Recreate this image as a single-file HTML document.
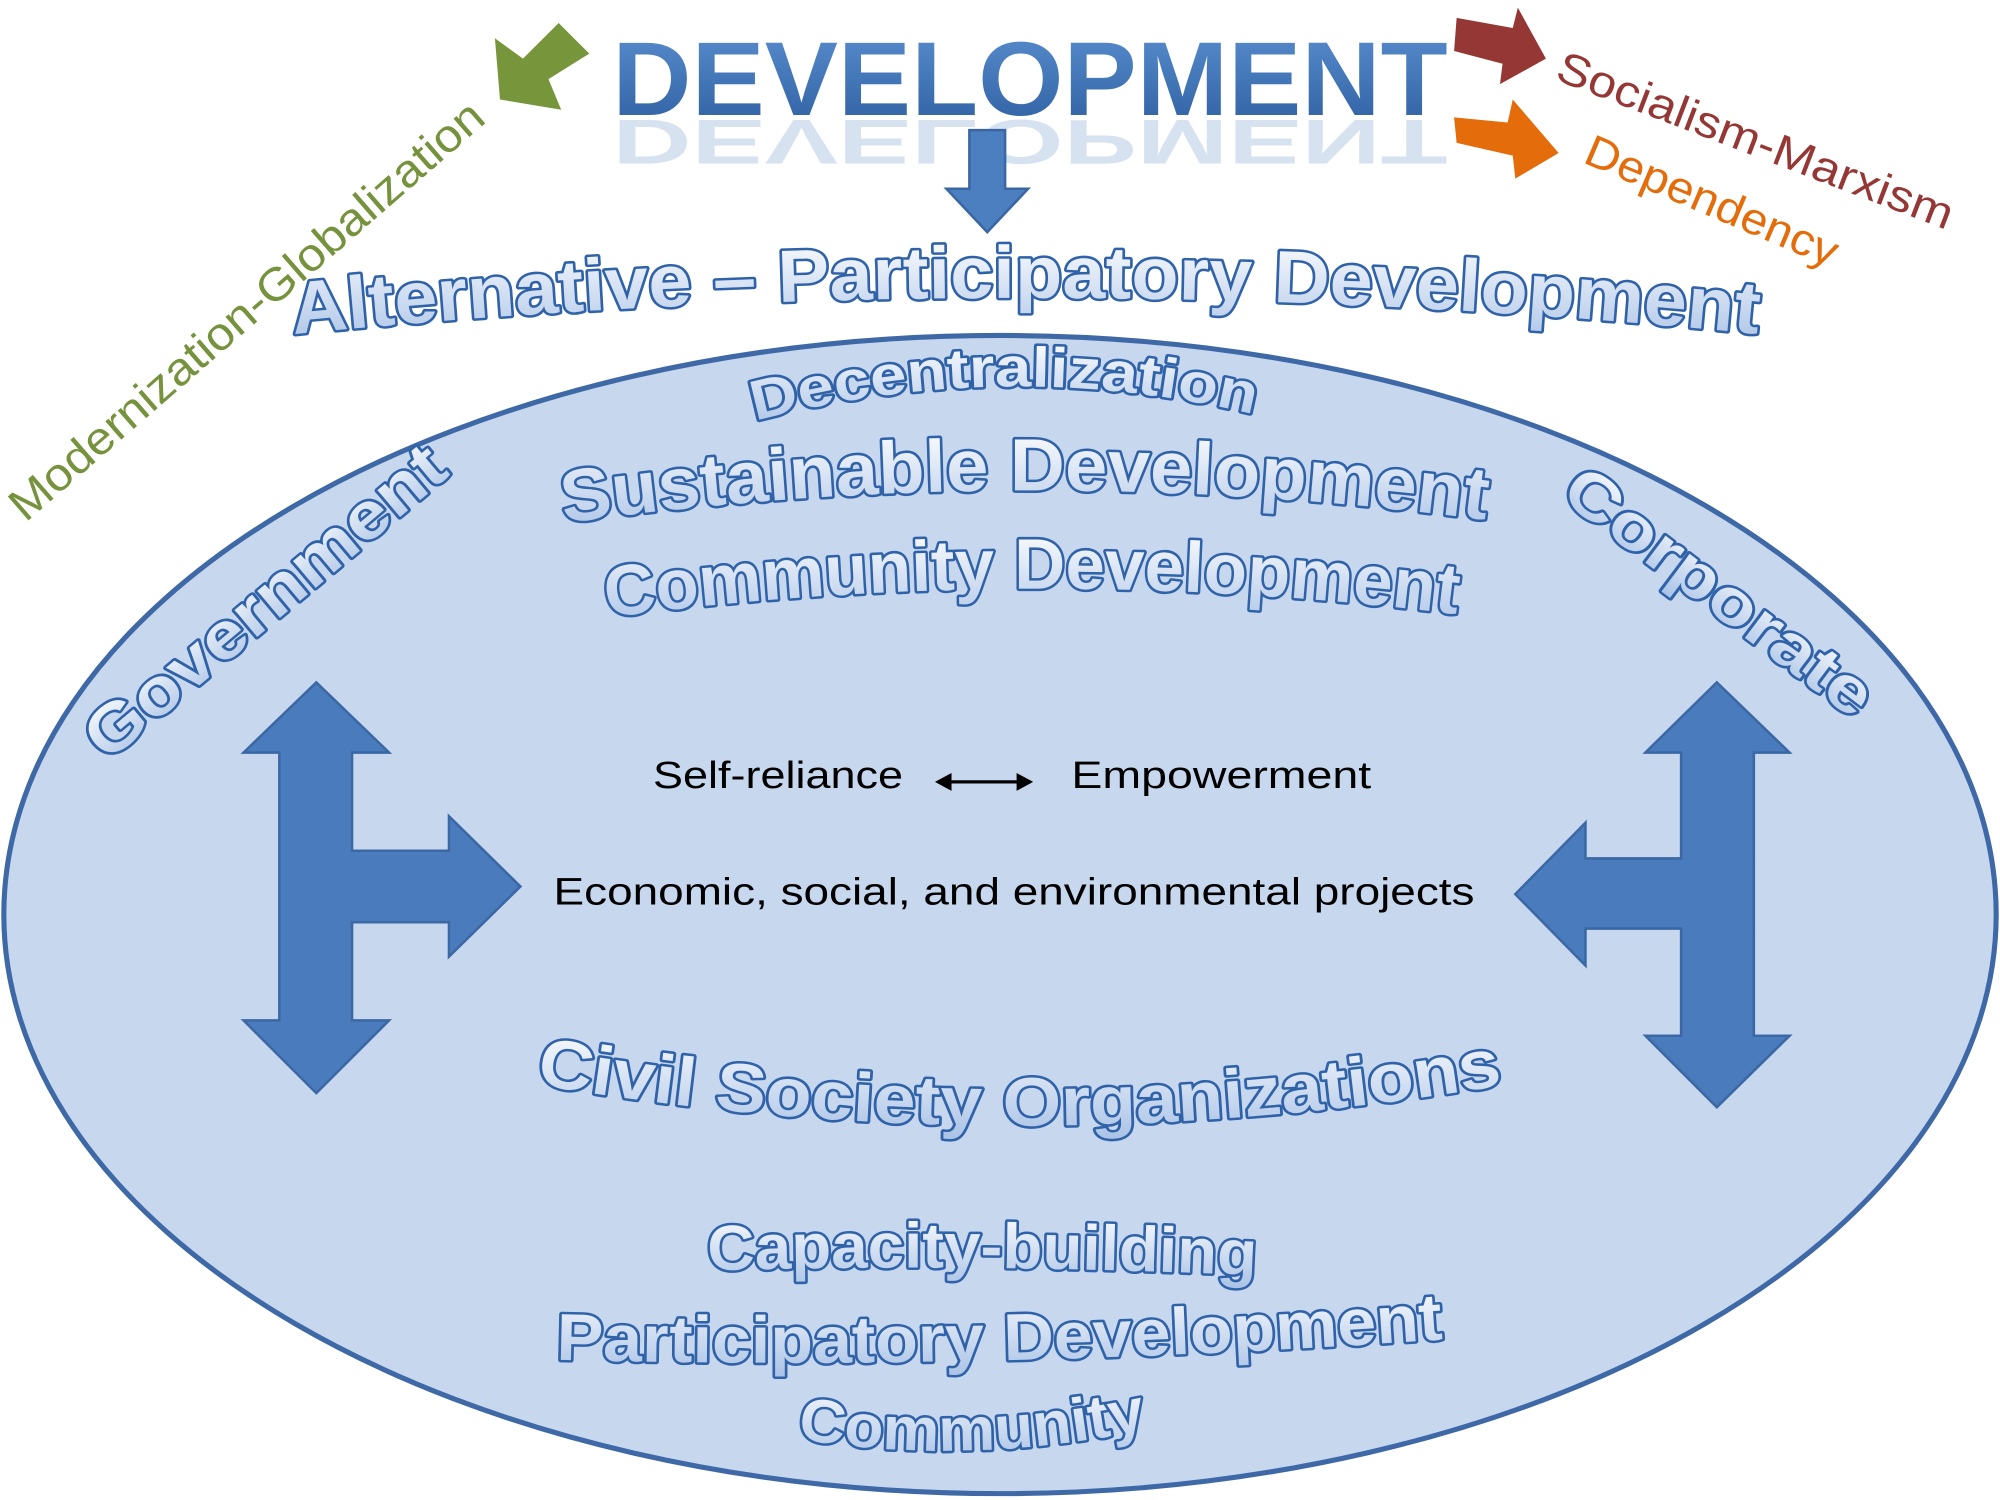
<!DOCTYPE html>
<html><head><meta charset="utf-8"><style>
html,body{margin:0;padding:0;background:#fff;width:2000px;height:1500px;overflow:hidden}
svg{display:block}
.o{font-family:"Liberation Sans",sans-serif;font-weight:bold;fill:url(#og);stroke:#2f62a8;stroke-width:4;paint-order:stroke;stroke-linejoin:round}
.n{font-family:"Liberation Sans",sans-serif;fill:#000;font-size:30px}
</style></head><body>
<svg width="2000" height="1500" viewBox="0 0 1568 1176" preserveAspectRatio="none" xmlns="http://www.w3.org/2000/svg">
<defs>
<linearGradient id="dg" x1="0" y1="0" x2="0" y2="1">
<stop offset="0" stop-color="#5a8fd0"/><stop offset="1" stop-color="#2d5e9f"/></linearGradient>
<linearGradient id="og" x1="0" y1="0" x2="0" y2="1">
<stop offset="0" stop-color="#ffffff"/><stop offset="1" stop-color="#a9c2e6"/></linearGradient>
<linearGradient id="rg" x1="0" y1="0" x2="0" y2="1">
<stop offset="0" stop-color="#8fb0dc" stop-opacity="0.7"/><stop offset="1" stop-color="#fff" stop-opacity="0"/></linearGradient>
<path id="p1" d="M230,262 Q805,205 1380,262"/>
<path id="p2" d="M592,330 Q790,278 988,326"/>
<path id="p3" d="M442,410 Q805,360 1168,408"/>
<path id="p4" d="M476,484 Q810,440 1146,482"/>
<path id="p5" d="M420,850 Q800,915 1182,850"/>
<path id="p6" d="M436,1066 Q780,1075 1132,1050"/>
<path id="p7" d="M625,1128 Q760,1150 902,1120"/>
<path id="p8" d="M555,996 Q770,990 985,1000"/>
</defs>
<ellipse cx="784" cy="717" rx="781" ry="454" fill="#c7d7ee" stroke="#3e69a6" stroke-width="4"/>

<text x="480" y="90" font-family="Liberation Sans,sans-serif" font-weight="bold" font-size="82" fill="url(#dg)" textLength="655" lengthAdjust="spacingAndGlyphs">DEVELOPMENT</text>
<text transform="translate(0,94) scale(1,-0.6)" x="480" y="0" font-family="Liberation Sans,sans-serif" font-weight="bold" font-size="82" fill="#a8c0e2" opacity="0.45" textLength="655" lengthAdjust="spacingAndGlyphs">DEVELOPMENT</text>
<rect x="470" y="96" width="680" height="60" fill="url(#rg)" opacity="0"/>

<polygon points="760,102 788,102 788,148 806,148 774,182 742,148 760,148" fill="#4c7fc0" stroke="#3a66a3" stroke-width="2"/>
<polygon points="438,18 462,42 430,62 440,86 392,78 388,30 410,46" fill="#77953a"/>
<polygon points="1142,14 1186,22 1190,6 1212,46 1176,66 1178,50 1140,40" fill="#953735"/>
<polygon points="1140,92 1182,96 1186,78 1222,120 1188,140 1186,122 1142,112" fill="#e46c0a"/>

<text transform="translate(20,410) rotate(-41)" font-family="Liberation Sans,sans-serif" font-size="36" fill="#76923c" textLength="480" lengthAdjust="spacingAndGlyphs">Modernization-Globalization</text>
<text transform="translate(1218,62) rotate(21)" font-family="Liberation Sans,sans-serif" font-size="35" fill="#953735" textLength="330" lengthAdjust="spacingAndGlyphs">Socialism-Marxism</text>
<text transform="translate(1240,127) rotate(23)" font-family="Liberation Sans,sans-serif" font-size="35" fill="#e46c0a" textLength="212" lengthAdjust="spacingAndGlyphs">Dependency</text>

<text class="o" font-size="58"><textPath href="#p1" textLength="1150" lengthAdjust="spacingAndGlyphs">Alternative – Participatory Development</textPath></text>
<text class="o" font-size="44"><textPath href="#p2" textLength="395" lengthAdjust="spacingAndGlyphs">Decentralization</textPath></text>
<text class="o" font-size="58"><textPath href="#p3" textLength="725" lengthAdjust="spacingAndGlyphs">Sustainable Development</textPath></text>
<text class="o" font-size="56"><textPath href="#p4" textLength="668" lengthAdjust="spacingAndGlyphs">Community Development</textPath></text>
<text class="o" transform="translate(84,598) rotate(-40)" font-size="52" textLength="352" lengthAdjust="spacingAndGlyphs">Government</text>
<text class="o" transform="translate(1222,390) rotate(37)" font-size="50" textLength="290" lengthAdjust="spacingAndGlyphs">Corporate</text>
<text class="o" font-size="54"><textPath href="#p5" textLength="762" lengthAdjust="spacingAndGlyphs">Civil Society Organizations</textPath></text>
<text class="o" font-size="50"><textPath href="#p8" textLength="430" lengthAdjust="spacingAndGlyphs">Capacity-building</textPath></text>
<text class="o" font-size="52"><textPath href="#p6" textLength="696" lengthAdjust="spacingAndGlyphs">Participatory Development</textPath></text>
<text class="o" font-size="48"><textPath href="#p7" textLength="276" lengthAdjust="spacingAndGlyphs">Community</textPath></text>

<text class="n" x="512" y="618" textLength="196" lengthAdjust="spacingAndGlyphs">Self-reliance</text>
<text class="n" x="840" y="618" textLength="235" lengthAdjust="spacingAndGlyphs">Empowerment</text>
<line x1="740" y1="613" x2="804" y2="613" stroke="#000" stroke-width="2.5"/>
<polygon points="733,613 746,606 746,620" fill="#000"/><polygon points="810,613 797,606 797,620" fill="#000"/>
<text class="n" x="434" y="709" textLength="722" lengthAdjust="spacingAndGlyphs">Economic, social, and environmental projects</text>

<polygon points="248,535 305,590 276,590 276,667 352,667 352,640 408,695 352,750 352,723 276,723 276,800 305,800 248,857 191,800 219,800 219,590 191,590" fill="#4a7cbd" stroke="#3b68a5" stroke-width="2"/>
<polygon points="1346,535 1403,590 1375,590 1375,812 1403,812 1346,868 1290,812 1318,812 1318,728 1243,728 1243,757 1188,701 1243,645 1243,673 1318,673 1318,590 1290,590" fill="#4a7cbd" stroke="#3b68a5" stroke-width="2"/>
</svg>
</body></html>
